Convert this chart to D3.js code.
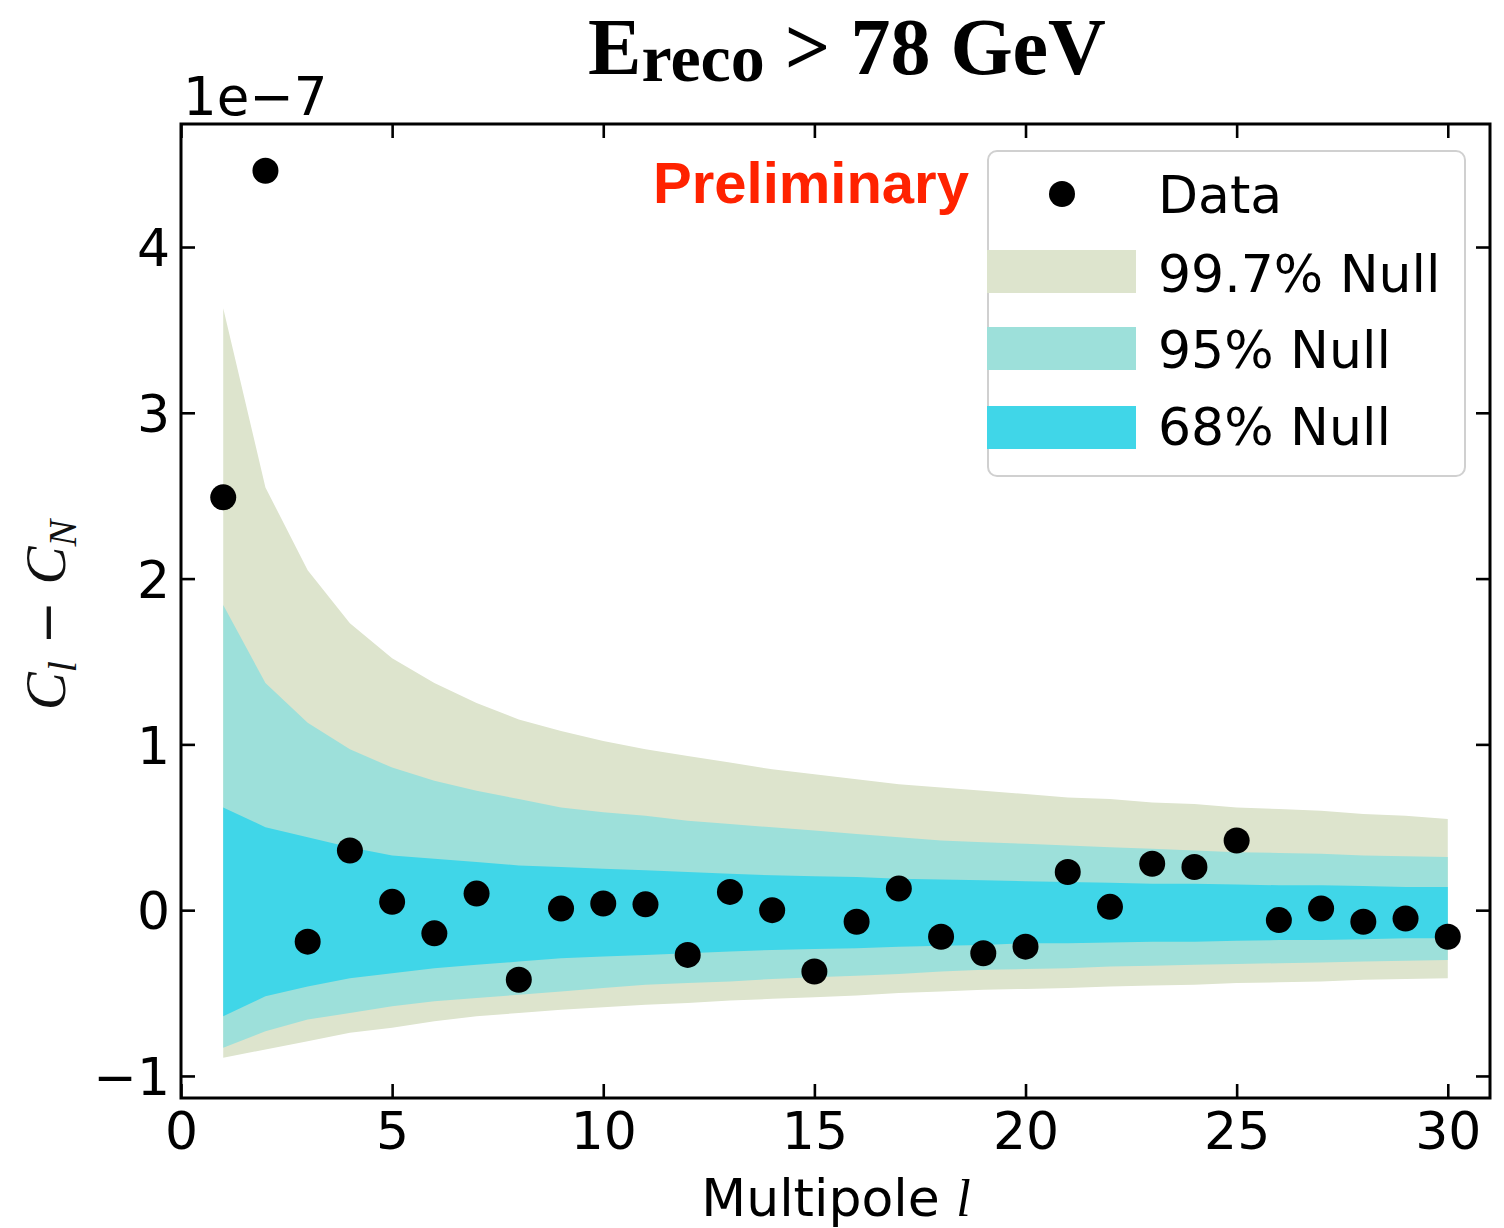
<!DOCTYPE html>
<html>
<head>
<meta charset="utf-8">
<script src="https://cdn.jsdelivr.net/npm/d3@7"></script>
<style>
  html, body { margin: 0; padding: 0; background: #fff; }
  svg { display: block; }
</style>
</head>
<body>
<svg id="chart" width="1504" height="1228"></svg>
<script>
// Multipoles l = 1..30
const multipoles = d3.range(1, 31);

// Measured C_l - C_N (units of 1e-7)
const dataValues = [2.49, 4.46, -0.19, 0.36, 0.05, -0.14, 0.10, -0.42, 0.01, 0.04,
                    0.035, -0.27, 0.11, 0.00, -0.37, -0.07, 0.13, -0.16, -0.26, -0.22,
                    0.23, 0.02, 0.28, 0.26, 0.42, -0.06, 0.01, -0.07, -0.05, -0.16];

// Null-hypothesis bands (upper / lower edges, units of 1e-7)
const band997Upper = [3.63, 2.55, 2.05, 1.73, 1.52, 1.37, 1.25, 1.15, 1.08, 1.02,
                      0.97, 0.93, 0.89, 0.85, 0.82, 0.79, 0.76, 0.74, 0.72, 0.70,
                      0.68, 0.67, 0.65, 0.64, 0.62, 0.61, 0.60, 0.58, 0.57, 0.55];
const band997Lower = [-0.89, -0.84, -0.79, -0.74, -0.71, -0.67, -0.64, -0.62, -0.60, -0.585,
                      -0.57, -0.56, -0.545, -0.535, -0.525, -0.515, -0.50, -0.49, -0.48, -0.475,
                      -0.47, -0.46, -0.455, -0.45, -0.44, -0.435, -0.43, -0.42, -0.415, -0.41];
const band95Upper = [1.84, 1.37, 1.13, 0.97, 0.86, 0.78, 0.72, 0.67, 0.62, 0.59,
                     0.57, 0.54, 0.52, 0.50, 0.48, 0.46, 0.44, 0.42, 0.41, 0.40,
                     0.39, 0.38, 0.37, 0.36, 0.35, 0.345, 0.34, 0.33, 0.325, 0.32];
const band95Lower = [-0.83, -0.73, -0.66, -0.62, -0.58, -0.55, -0.53, -0.51, -0.49, -0.47,
                     -0.45, -0.44, -0.43, -0.415, -0.405, -0.395, -0.385, -0.37, -0.36, -0.355,
                     -0.35, -0.34, -0.335, -0.33, -0.325, -0.32, -0.315, -0.31, -0.305, -0.30];
const band68Upper = [0.62, 0.50, 0.44, 0.38, 0.33, 0.31, 0.29, 0.27, 0.26, 0.25,
                     0.24, 0.23, 0.22, 0.21, 0.205, 0.20, 0.19, 0.185, 0.18, 0.175,
                     0.17, 0.165, 0.16, 0.16, 0.155, 0.15, 0.15, 0.145, 0.14, 0.14];
const band68Lower = [-0.64, -0.52, -0.46, -0.41, -0.38, -0.35, -0.33, -0.31, -0.29, -0.28,
                     -0.27, -0.26, -0.25, -0.24, -0.235, -0.23, -0.22, -0.215, -0.21, -0.20,
                     -0.20, -0.195, -0.19, -0.19, -0.185, -0.18, -0.18, -0.175, -0.17, -0.17];

const xTicks = [0, 5, 10, 15, 20, 25, 30];
const yTicks = [-1, 0, 1, 2, 3, 4];

const legendLabels = ["Data", "99.7% Null", "95% Null", "68% Null"];
const bandColors = { b997: "#dde4cd", b95: "#9de0da", b68: "#40d6e8" };

const svg = d3.select("#chart");
const plot = { left: 181, right: 1490, top: 124, bottom: 1098 };

const x = d3.scaleLinear().domain([0, 31]).range([plot.left, plot.right]);
const y = d3.scaleLinear().domain([-1.133, 4.742]).range([plot.bottom, plot.top]);

// Bands
const bands = [
  { up: band997Upper, lo: band997Lower, color: bandColors.b997 },
  { up: band95Upper, lo: band95Lower, color: bandColors.b95 },
  { up: band68Upper, lo: band68Lower, color: bandColors.b68 }
];
const area = d3.area()
  .x(d => x(d.l))
  .y0(d => y(d.lo))
  .y1(d => y(d.up));
const gBands = svg.append("g");
bands.forEach(b => {
  const pts = multipoles.map((l, i) => ({ l, up: b.up[i], lo: b.lo[i] }));
  gBands.append("path").attr("d", area(pts)).attr("fill", b.color);
});

// Data points
svg.append("g").selectAll("circle")
  .data(multipoles.map((l, i) => ({ l, v: dataValues[i] })))
  .join("circle")
  .attr("cx", d => x(d.l))
  .attr("cy", d => y(d.v))
  .attr("r", 13)
  .attr("fill", "#000");

// Axes with inward ticks on all sides
const tickLen = 14;
const fontTick = "52px 'DejaVu Sans'";
const axisBottom = d3.axisBottom(x).tickValues(xTicks).tickSize(-tickLen).tickPadding(14).tickFormat(d3.format("d"));
const axisTop = d3.axisTop(x).tickValues(xTicks).tickSize(-tickLen).tickFormat("");
const axisLeft = d3.axisLeft(y).tickValues(yTicks).tickSize(-tickLen).tickPadding(11)
  .tickFormat(d => d < 0 ? "\u2212" + Math.abs(d) : String(d));
const axisRight = d3.axisRight(y).tickValues(yTicks).tickSize(-tickLen).tickFormat("");

function styleAxis(g) {
  g.select(".domain").remove();
  g.selectAll(".tick line").attr("stroke", "#000").attr("stroke-width", 2.6);
  g.selectAll(".tick text").style("font", fontTick).attr("fill", "#000");
}
svg.append("g").attr("transform", `translate(0,${plot.bottom})`).call(axisBottom).call(styleAxis);
svg.append("g").attr("transform", `translate(0,${plot.top})`).call(axisTop).call(styleAxis);
svg.append("g").attr("transform", `translate(${plot.left},0)`).call(axisLeft).call(styleAxis)
  .selectAll(".tick text").attr("dy", "0.36em");
svg.append("g").attr("transform", `translate(${plot.right},0)`).call(axisRight).call(styleAxis);

// Frame
svg.append("rect")
  .attr("x", plot.left).attr("y", plot.top)
  .attr("width", plot.right - plot.left).attr("height", plot.bottom - plot.top)
  .attr("fill", "none").attr("stroke", "#000").attr("stroke-width", 3);

// Offset label
svg.append("text").attr("x", 183).attr("y", 115)
  .style("font", "53px 'DejaVu Sans'").text("1e\u22127");

// Axis titles
const xLabel = svg.append("text").attr("x", 836).attr("y", 1216)
  .attr("text-anchor", "middle").style("font", "52px 'DejaVu Sans'");
xLabel.append("tspan").text("Multipole ");
xLabel.append("tspan").style("font", "italic 52px 'Liberation Serif'").text("l");

const yLabel = svg.append("text")
  .attr("transform", "translate(65,615) rotate(-90)")
  .attr("text-anchor", "middle")
  .style("font", "italic 57px 'Liberation Serif'").attr("fill", "#111");
yLabel.append("tspan").text("C");
yLabel.append("tspan").attr("dy", 11).style("font-size", "40px").text("l");
yLabel.append("tspan").attr("dy", -11).style("font", "normal 52px 'DejaVu Sans'").text(" \u2212 ");
yLabel.append("tspan").text("C");
yLabel.append("tspan").attr("dy", 11).style("font-size", "40px").text("N");

// Title
const title = svg.append("text").attr("x", 847).attr("y", 74)
  .attr("text-anchor", "middle")
  .style("font", "bold 80px 'Liberation Serif'");
title.append("tspan").text("E");
title.append("tspan").attr("dy", 7).style("font-size", "68px").text("reco");
title.append("tspan").attr("dy", -7).text(" > 78 GeV");

// Preliminary tag
svg.append("text").attr("x", 653).attr("y", 203)
  .style("font", "bold 58px 'Liberation Sans'").attr("fill", "#ff2200")
  .text("Preliminary");

// Legend
const lg = svg.append("g");
lg.append("rect").attr("x", 988).attr("y", 151).attr("width", 477).attr("height", 325)
  .attr("rx", 9).attr("fill", "#fff").attr("fill-opacity", 0.8)
  .attr("stroke", "#d0d0d0").attr("stroke-width", 2);
lg.append("circle").attr("cx", 1062).attr("cy", 194).attr("r", 13).attr("fill", "#000");
const legendRects = [
  { y: 250, color: bandColors.b997 },
  { y: 327, color: bandColors.b95 },
  { y: 406, color: bandColors.b68 }
];
legendRects.forEach(r => {
  lg.append("rect").attr("x", 987).attr("y", r.y).attr("width", 149).attr("height", 43).attr("fill", r.color);
});
const legendBaselines = [213, 292, 368, 445];
legendLabels.forEach((t, i) => {
  lg.append("text").attr("x", 1158).attr("y", legendBaselines[i])
    .style("font", "52px 'DejaVu Sans'").text(t);
});
</script>
</body>
</html>
